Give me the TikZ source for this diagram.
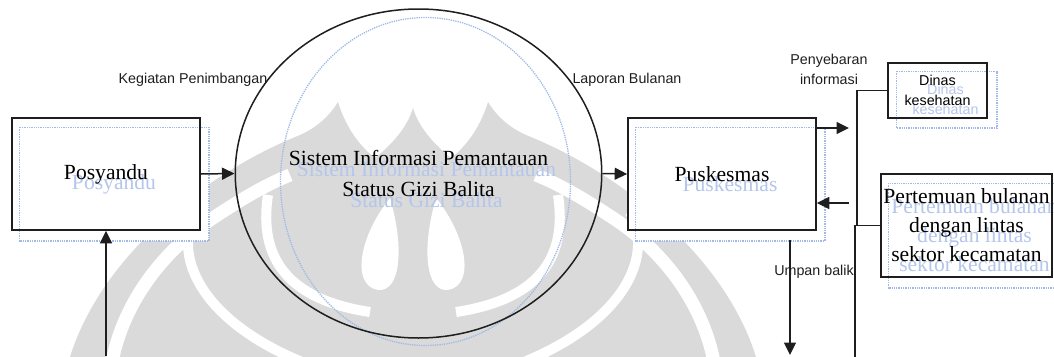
\documentclass[tikz,border=0pt]{standalone}
\usepackage{fontspec}
\setmainfont{Liberation Serif}
\setsansfont{Liberation Sans}
\usetikzlibrary{arrows.meta,calc,shapes.geometric}
\pgfdeclarelayer{bg}
\pgfdeclarelayer{ghost}
\pgfsetlayers{bg,ghost,main}
\definecolor{wm}{RGB}{218,218,218}
\definecolor{ghostc}{RGB}{160,185,230}
\definecolor{ghosttxt}{RGB}{180,198,236}
\definecolor{ink}{RGB}{30,30,30}
\newcommand\wmhalfshape{%
  \fill[wm] (413,357) -- (70,357) .. controls (100,260) and (200,175) .. (300,135)
     .. controls (318,127) and (330,115) .. (338,102)
     .. controls (345,125) and (358,145) .. (375,158)
     .. controls (395,142) and (408,125) .. (413,108) -- cycle;
  \draw[white,line width=13pt] (112,362) .. controls (124,300) and (165,250) .. (210,220)
     .. controls (240,200) and (265,185) .. (290,175);
  \draw[white,line width=10pt] (196,212) .. controls (172,255) and (200,320) .. (302,362);
  \draw[white,line width=10pt] (268,195) .. controls (258,260) and (290,300) .. (370,312);
  \fill[white] (390,198) .. controls (360,235) and (350,285) .. (378,290)
     .. controls (400,292) and (405,250) .. (390,198);
}
\begin{document}
\begin{tikzpicture}[x=1pt,y=-1pt,
  serif/.style={font=\fontsize{21.6}{29}\selectfont},
  sans/.style={font=\sffamily\fontsize{14.3}{19.5}\selectfont},
  box/.style={draw=ink,line width=1.7pt,inner sep=0pt,align=center},
  lbl/.style={sans,inner sep=0pt,align=center,text=ink},
  gbox/.style={draw=ghostc,densely dotted,line width=1.3pt},
  gtxt/.style={text=ghosttxt,inner sep=0pt,align=center},
  arr/.style={draw=ink,line width=1.5pt,-{Triangle[length=12.5pt,width=12pt]}},
  ln/.style={draw=ink,line width=1.5pt}]
\useasboundingbox (0,0) rectangle (1054,356);

% main nodes
\node[box,serif,minimum width=188pt,minimum height=112pt] (pos) at (106,174) {Posyandu};
\node[box,serif,minimum width=188pt,minimum height=112pt] (pus) at (722,174) {Puskesmas};
\node[draw=ink,line width=1.5pt,ellipse,inner sep=0pt,minimum width=293pt,minimum height=329pt,
      align=center,font=\fontsize{21.6}{31.5}\selectfont] (sip) at (418.5,173.5)
      {Sistem Informasi Pemantauan\\Status Gizi Balita};
\node[box,font=\sffamily\fontsize{14.3}{20}\selectfont,minimum width=99pt,minimum height=55pt] (din) at (937.5,90.5) {Dinas\\kesehatan};
\node[box,serif,minimum width=171pt,minimum height=103pt] (per) at (966.5,225.5)
      {Pertemuan bulanan\\dengan lintas\\sektor kecamatan};

% labels
\node[lbl] (kp) at (193,80) {Kegiatan Penimbangan};
\node[lbl] (lb) at (627,80) {Laporan Bulanan};
\node[lbl] (pi) at (829,69.5) {Penyebaran\\informasi};
\node[lbl] (ubl) at (814,272) {Umpan balik};

% connectors
\draw[arr] (pos.east) -- (sip.west);
\draw[arr] (sip.east) -- (pus.west);
\coordinate (pb) at (106,356);
\draw[arr] (pb) -- (pos.south);
\coordinate (pr1) at (849,128);
\draw[arr] (pus.east |- pr1) -- (pr1);
\coordinate (pr2) at (849,203);
\draw[arr] (pr2) -- (pus.east |- pr2);
\coordinate (ub) at (790,240);
\coordinate (ube) at (790,355);
\draw[arr] (ub) -- (ube);
\coordinate (j2) at (857,225.5);
\draw[ln] (din.west) -| (j2);
\coordinate (j3) at (855,225.5);
\coordinate (j4) at (855,357);
\draw[ln] (per.west) -- (j3) -- (j4);

% ghost copies
\begin{pgfonlayer}{ghost}
  \foreach \n/\dx/\dy in {pos/8/10,pus/8/10,din/9/9,per/8/10}{
    \draw[gbox] ($(\n.north west)+(\dx,\dy)$) rectangle ($(\n.south east)+(\dx,\dy)$);
  }
  \draw[gbox] ($(sip.center)+(7,8)$) ellipse [x radius=145pt, y radius=164pt];
  \node[gtxt,serif] (gpos) at ($(pos.center)+(8,10)$) {Posyandu};
  \node[gtxt,serif] (gpus) at ($(pus.center)+(8,10)$) {Puskesmas};
  \node[gtxt,font=\fontsize{21.6}{31.5}\selectfont] (gsip) at ($(sip.center)+(8,11)$) {Sistem Informasi Pemantauan\\Status Gizi Balita};
  \node[gtxt,font=\sffamily\fontsize{14.3}{20}\selectfont] (gdin) at ($(din.center)+(8,9)$) {Dinas\\kesehatan};
  \node[gtxt,serif] (gper) at ($(per.center)+(8,10)$) {Pertemuan bulanan\\dengan lintas\\sektor kecamatan};
\end{pgfonlayer}

% background: watermark and white box fills
\begin{pgfonlayer}{bg}
  \begin{scope}
    \clip (0,0) rectangle (1054,356);
    \wmhalfshape
    \begin{scope}[shift={(826,0)},xscale=-1]
      \wmhalfshape
    \end{scope}
  \end{scope}
  \foreach \n/\dx/\dy in {pos/8/10,pus/8/10,din/9/9,per/8/10}{
    \fill[white] (\n.north west) rectangle (\n.south east);
    \fill[white] ($(\n.north west)+(\dx,\dy)$) rectangle ($(\n.south east)+(\dx,\dy)$);
  }
\end{pgfonlayer}
\end{tikzpicture}
\end{document}
